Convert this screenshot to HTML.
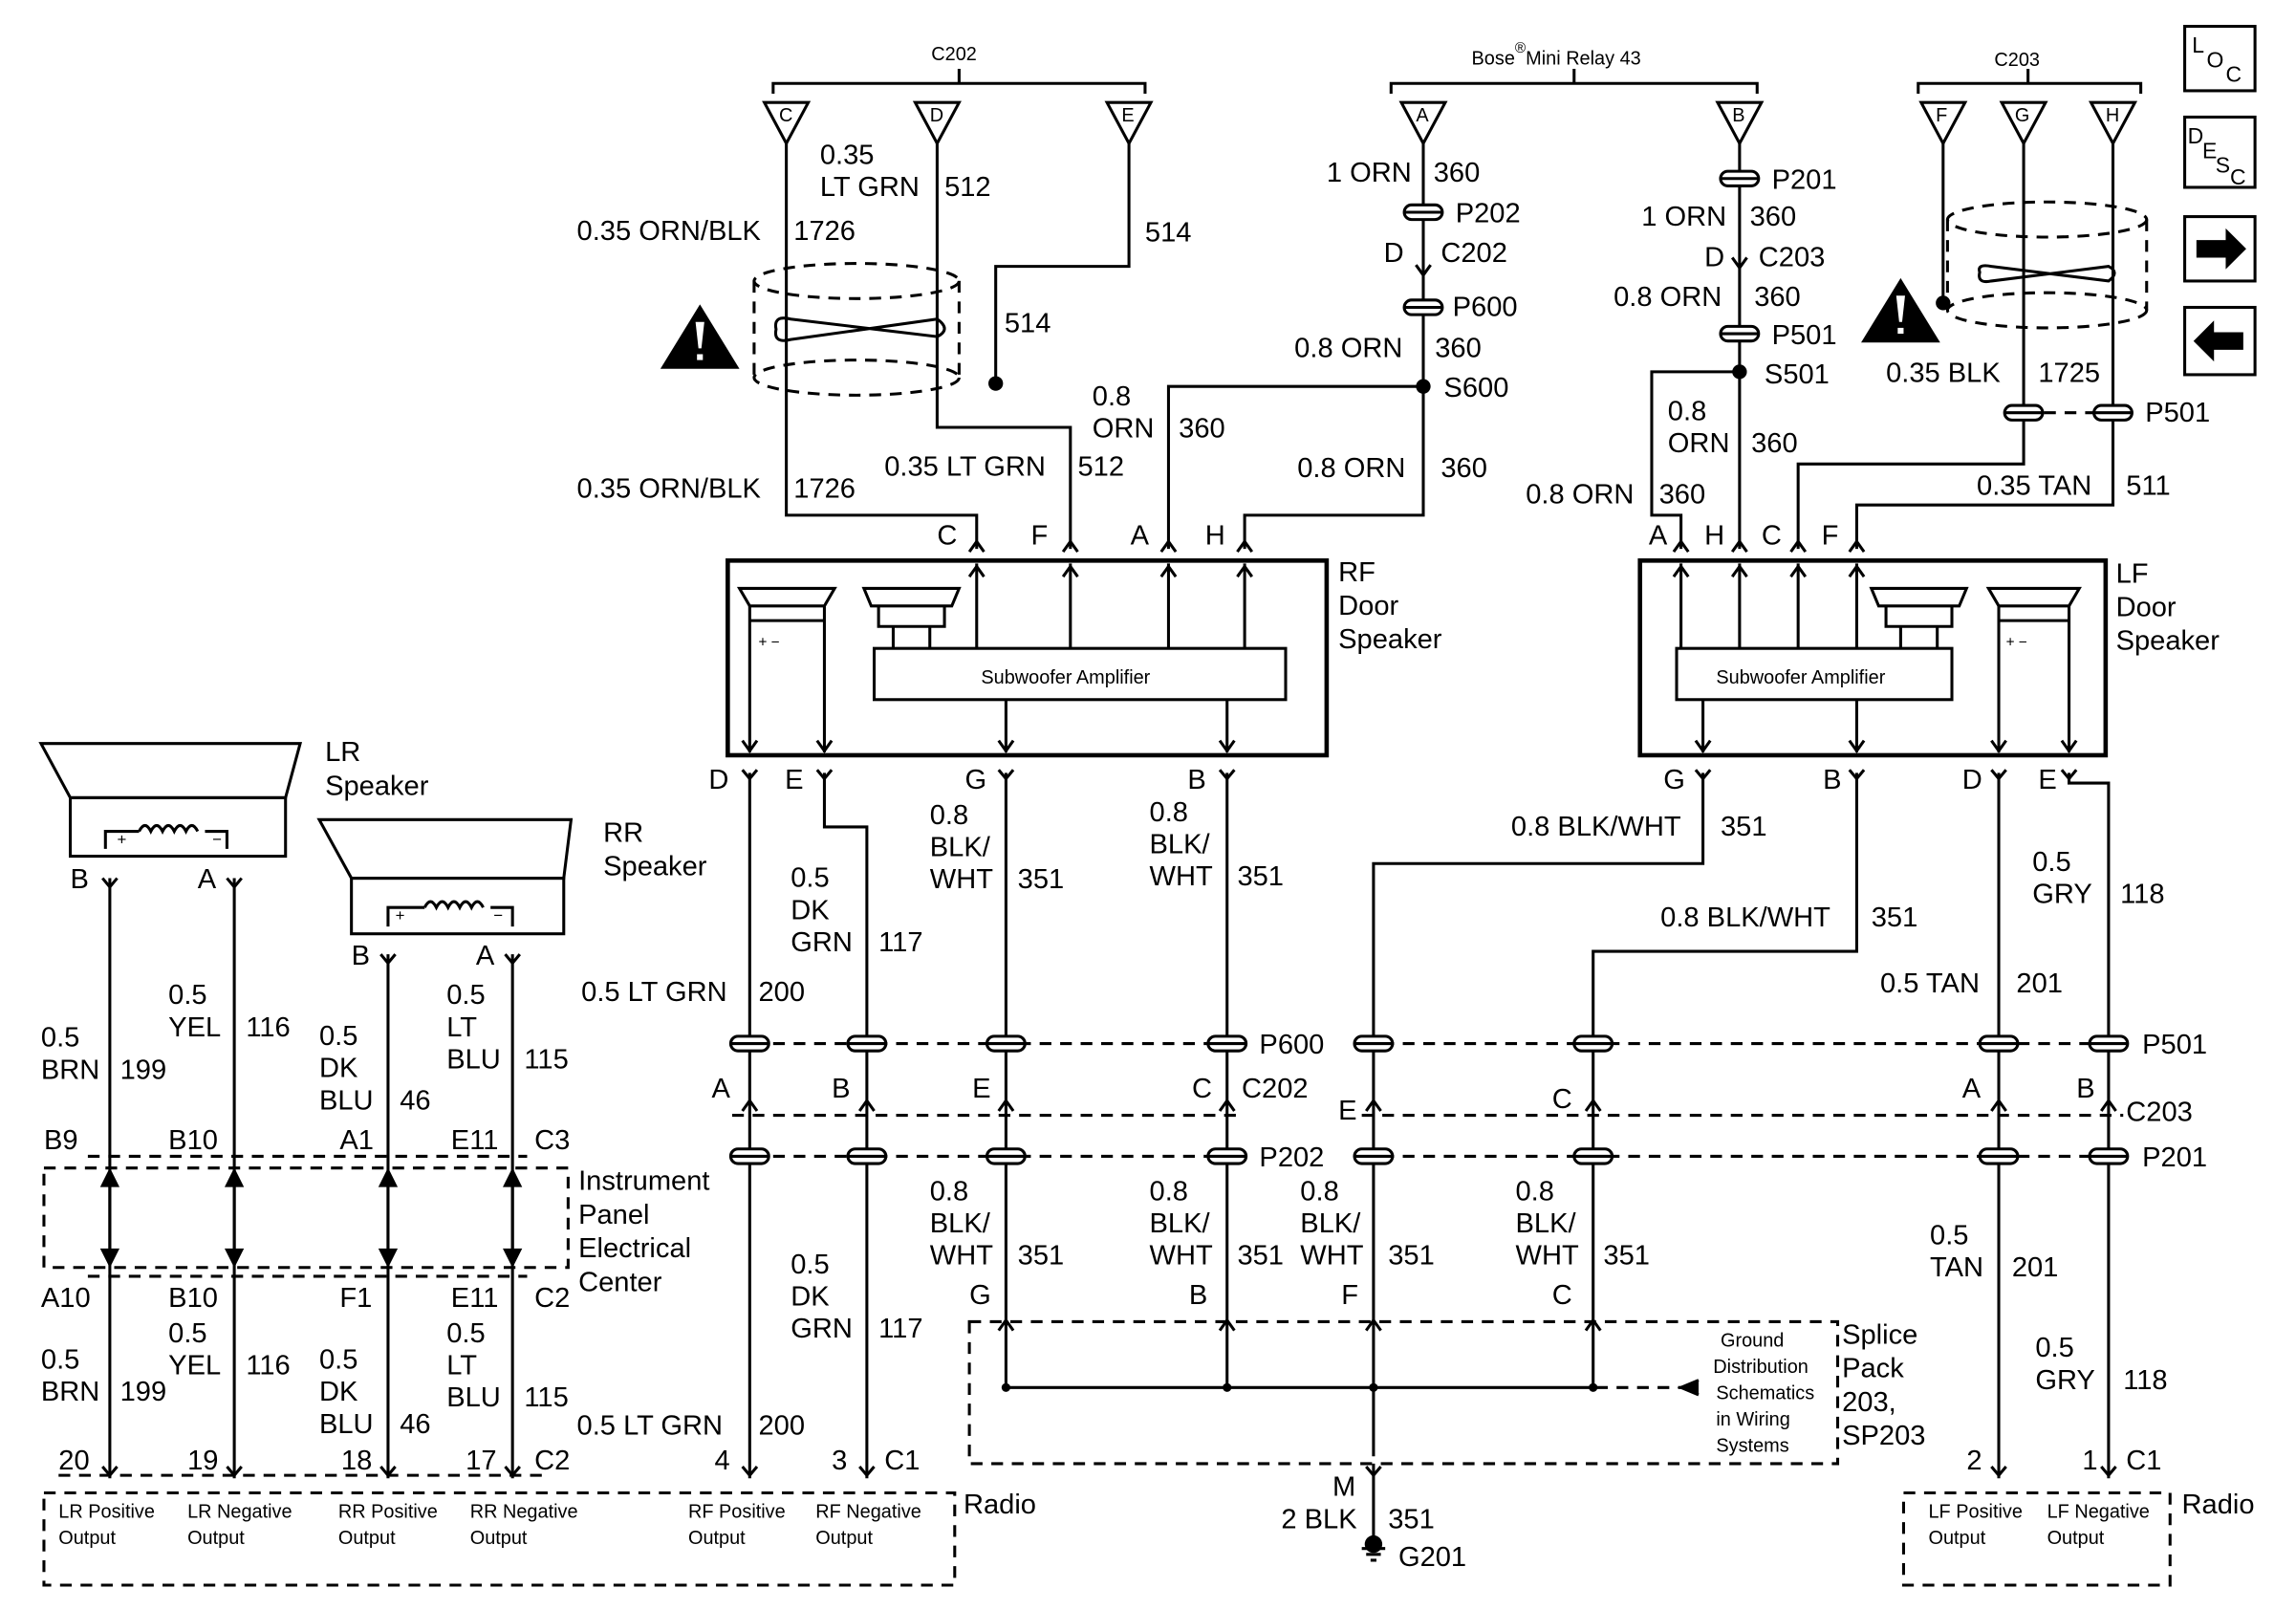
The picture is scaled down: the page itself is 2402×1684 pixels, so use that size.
<!DOCTYPE html>
<html><head><meta charset="utf-8"><style>
html,body{margin:0;padding:0;background:#fff}
svg{display:block}
text{font-family:"Liberation Sans",sans-serif;fill:#000}
</style></head><body>
<svg width="2402" height="1684" viewBox="0 0 1568 1100" preserveAspectRatio="none" xmlns="http://www.w3.org/2000/svg">
<defs>
<g id="tri"><path d="M-15,-28 L15,-28 L0,0 Z" fill="#fff" stroke="#000" stroke-width="2"/></g>
<g id="cap"><rect x="-13" y="-5" width="26" height="10" rx="5" fill="#fff" stroke="#000" stroke-width="2"/><line x1="-13" y1="0" x2="13" y2="0" stroke="#000" stroke-width="2"/></g>
<g id="up"><path d="M-5,7 L0,0 L5,7" fill="none" stroke="#000" stroke-width="2"/></g>
<g id="dn"><path d="M-5,-7 L0,0 L5,-7" fill="none" stroke="#000" stroke-width="2"/></g>
<g id="yy"><path d="M-5,-6 L0,0 L5,-6" fill="none" stroke="#000" stroke-width="2"/></g>
<g id="warn"><path d="M-27,22 L0,-22 L27,22 Z" fill="#000"/><path d="M-3,-10 L3,-10 L1,8 L-1,8Z" fill="#fff"/><rect x="-2" y="12" width="4" height="4" fill="#fff"/></g>
</defs>
<g stroke="#000" stroke-width="2" fill="none">
<path d="M528,64 L528,57 L782,57 L782,64 M655,57 L655,47"/>
<path d="M950,64 L950,57 L1200,57 L1200,64 M1075,57 L1075,47"/>
<path d="M1310,64 L1310,57 L1462,57 L1462,64 M1385,57 L1385,47"/>
<path d="M537,98 L537,352 L667,352 L667,375"/>
<path d="M640,98 L640,292 L731,292 L731,375"/>
<path d="M771,98 L771,182 L680,182 L680,262"/>
<path d="M972,98 L972,352 L850,352 L850,375"/>
<path d="M972,264 L798,264 L798,375"/>
<path d="M1188,98 L1188,375"/>
<path d="M1188,254 L1128,254 L1128,352 L1148,352 L1148,375"/>
<path d="M1327,98 L1327,207"/>
<path d="M1382,98 L1382,317 L1228,317 L1228,375"/>
<path d="M1443,98 L1443,345 L1268,345 L1268,375"/>
<g stroke-dasharray="8,6">
<ellipse cx="585" cy="192" rx="70" ry="12"/><ellipse cx="585" cy="258" rx="70" ry="12"/>
<path d="M515,192 L515,258 M655,192 L655,258"/>
<ellipse cx="1398" cy="150" rx="68" ry="12"/><ellipse cx="1398" cy="212" rx="68" ry="12"/>
<path d="M1330,150 L1330,212 M1466,150 L1466,212"/>
<path d="M1382,282 L1443,282"/>
</g>
<path d="M530,225 Q528,215 540,218 L640,230 Q650,225 640,218 L540,232 Q528,235 530,225Z"/>
<path d="M1352,186 Q1350,180 1360,182 L1440,192 Q1448,186 1440,182 L1360,192 Q1350,194 1352,186Z"/>
<rect x="497" y="383" width="409" height="133" stroke-width="3"/>
<rect x="597" y="443" width="281" height="35"/>
<rect x="1120" y="383" width="318" height="133" stroke-width="3"/>
<rect x="1145" y="443" width="188" height="35"/>
<path d="M505,402 L570,402 L563,414 L512,414 Z M512,424 L563,424"/>
<path d="M590,402 L655,402 L650,414 L595,414 Z M600,414 L645,414 L645,428 L600,428 Z M610,428 L610,443 M635,428 L635,443"/>
<path d="M1278,402 L1343,402 L1338,414 L1283,414 Z M1288,414 L1333,414 L1333,428 L1288,428 Z M1298,428 L1298,443 M1323,428 L1323,443"/>
<path d="M1358,402 L1420,402 L1413,414 L1365,414 Z M1365,424 L1413,424"/>
<path d="M667,443 L667,385 M731,443 L731,385 M798,443 L798,385 M850,443 L850,385"/>
<path d="M687,478 L687,514 M838,478 L838,514 M512,414 L512,514 M563,414 L563,514"/>
<path d="M1148,443 L1148,385 M1188,443 L1188,385 M1228,443 L1228,385 M1268,443 L1268,385"/>
<path d="M1163,478 L1163,514 M1268,478 L1268,514 M1365,414 L1365,514 M1413,414 L1413,514"/>
<path d="M512,528 L512,1010"/>
<path d="M563,528 L563,565 L592,565 L592,1010"/>
<path d="M687,528 L687,948 M838,528 L838,948"/>
<path d="M1163,528 L1163,590 L938,590 L938,995"/>
<path d="M1268,528 L1268,650 L1088,650 L1088,948"/>
<path d="M1365,528 L1365,1010"/>
<path d="M1413,528 L1413,535 L1440,535 L1440,1010"/>
<path d="M687,948 L1088,948"/>
<path d="M1090,948 L1150,948" stroke-dasharray="8,6"/>
<path d="M1160,943 L1148,948 L1160,953" fill="#000"/>
<path d="M938,1000 L938,1050"/>
<path d="M930,1058 L946,1058 M933,1062 L943,1062 M936,1066 L940,1066"/>
<g stroke-dasharray="8,6">
<path d="M500,713 L850,713 M930,713 L1450,713 M500,762 L850,762 M930,762 L1450,762 M500,790 L850,790 M930,790 L1450,790"/>
<rect x="662" y="903" width="593" height="97"/>
<rect x="30" y="798" width="358" height="68"/>
<rect x="30" y="1020" width="622" height="63"/>
<rect x="1300" y="1020" width="182" height="63"/>
<path d="M60,790 L360,790 M60,872 L360,872 M40,1008 L370,1008"/>
</g>
<path d="M28,508 L205,508 L195,545 L48,545 Z"/>
<rect x="48" y="545" width="147" height="40"/>
<path d="M72,580 L72,568 L95,568 M140,568 L155,568 L155,580 M95,568 q4,-8 8,0 q4,-8 8,0 q4,-8 8,0 q4,-8 8,0 q4,-8 8,0"/>
<path d="M218,560 L390,560 L385,600 L240,600 Z"/>
<rect x="240" y="600" width="145" height="38"/>
<path d="M265,633 L265,620 L290,620 M335,620 L350,620 L350,633 M290,620 q4,-8 8,0 q4,-8 8,0 q4,-8 8,0 q4,-8 8,0 q4,-8 8,0"/>
<path d="M75,600 L75,1010 M160,600 L160,1010 M265,652 L265,1010 M350,652 L350,1010"/>
<rect x="1492" y="18" width="48" height="44"/><rect x="1492" y="80" width="48" height="48"/>
<rect x="1492" y="148" width="48" height="44"/><rect x="1492" y="210" width="48" height="46"/>
</g>
<g fill="#000" stroke="none">
<path d="M1500,164 L1520,164 L1520,156 L1534,170 L1520,184 L1520,176 L1500,176Z"/>
<path d="M1532,227 L1512,227 L1512,219 L1498,233 L1512,247 L1512,239 L1532,239Z"/>
<circle cx="680" cy="262" r="5"/><circle cx="972" cy="264" r="5"/><circle cx="1188" cy="254" r="5"/><circle cx="1327" cy="207" r="5"/>
<circle cx="687" cy="948" r="3"/><circle cx="838" cy="948" r="3"/><circle cx="938" cy="948" r="3"/><circle cx="1088" cy="948" r="3"/>
<circle cx="938" cy="1055" r="6"/>
</g>
<g stroke="#000" stroke-width="2" fill="#000">
<path d="M75,802 L75,862"/><path d="M70,810 L75,800 L80,810Z M70,854 L75,864 L80,854Z"/>
<path d="M160,802 L160,862"/><path d="M155,810 L160,800 L165,810Z M155,854 L160,864 L165,854Z"/>
<path d="M265,802 L265,862"/><path d="M260,810 L265,800 L270,810Z M260,854 L265,864 L270,854Z"/>
<path d="M350,802 L350,862"/><path d="M345,810 L350,800 L355,810Z M345,854 L350,864 L355,854Z"/>
</g>
<use href="#tri" x="537" y="98"/><use href="#tri" x="640" y="98"/><use href="#tri" x="771" y="98"/>
<use href="#tri" x="972" y="98"/><use href="#tri" x="1188" y="98"/>
<use href="#tri" x="1327" y="98"/><use href="#tri" x="1382" y="98"/><use href="#tri" x="1443" y="98"/>
<use href="#cap" x="972" y="145"/><use href="#cap" x="972" y="210"/>
<use href="#cap" x="1188" y="122"/><use href="#cap" x="1188" y="228"/>
<use href="#cap" x="1382" y="282"/><use href="#cap" x="1443" y="282"/>
<use href="#dn" x="972" y="188"/><use href="#dn" x="1188" y="183"/>
<g>
<use href="#cap" x="512" y="713"/><use href="#cap" x="592" y="713"/><use href="#cap" x="687" y="713"/><use href="#cap" x="838" y="713"/>
<use href="#cap" x="938" y="713"/><use href="#cap" x="1088" y="713"/><use href="#cap" x="1365" y="713"/><use href="#cap" x="1440" y="713"/>
<use href="#cap" x="512" y="790"/><use href="#cap" x="592" y="790"/><use href="#cap" x="687" y="790"/><use href="#cap" x="838" y="790"/>
<use href="#cap" x="938" y="790"/><use href="#cap" x="1088" y="790"/><use href="#cap" x="1365" y="790"/><use href="#cap" x="1440" y="790"/>
<use href="#up" x="512" y="752"/><use href="#up" x="592" y="752"/><use href="#up" x="687" y="752"/><use href="#up" x="838" y="752"/>
<use href="#up" x="938" y="752"/><use href="#up" x="1088" y="752"/><use href="#up" x="1365" y="752"/><use href="#up" x="1440" y="752"/>
<use href="#up" x="667" y="370"/><use href="#up" x="731" y="370"/><use href="#up" x="798" y="370"/><use href="#up" x="850" y="370"/>
<use href="#up" x="1148" y="370"/><use href="#up" x="1188" y="370"/><use href="#up" x="1228" y="370"/><use href="#up" x="1268" y="370"/>
<use href="#up" x="667" y="387"/><use href="#up" x="731" y="387"/><use href="#up" x="798" y="387"/><use href="#up" x="850" y="387"/>
<use href="#up" x="1148" y="387"/><use href="#up" x="1188" y="387"/><use href="#up" x="1228" y="387"/><use href="#up" x="1268" y="387"/>
<use href="#dn" x="512" y="513"/><use href="#dn" x="563" y="513"/><use href="#dn" x="687" y="513"/><use href="#dn" x="838" y="513"/>
<use href="#dn" x="1163" y="513"/><use href="#dn" x="1268" y="513"/><use href="#dn" x="1365" y="513"/><use href="#dn" x="1413" y="513"/>
<use href="#yy" x="512" y="532"/><use href="#yy" x="563" y="532"/><use href="#yy" x="687" y="532"/><use href="#yy" x="838" y="532"/>
<use href="#yy" x="1163" y="532"/><use href="#yy" x="1268" y="532"/><use href="#yy" x="1365" y="532"/><use href="#yy" x="1413" y="532"/>
<use href="#yy" x="75" y="606"/><use href="#yy" x="160" y="606"/><use href="#yy" x="265" y="658"/><use href="#yy" x="350" y="658"/>
<use href="#up" x="687" y="902"/><use href="#up" x="838" y="902"/><use href="#up" x="938" y="902"/><use href="#up" x="1088" y="902"/>
<use href="#yy" x="938" y="1008"/>
<use href="#yy" x="75" y="1008"/><use href="#yy" x="160" y="1008"/><use href="#yy" x="265" y="1008"/><use href="#yy" x="350" y="1008"/>
<use href="#yy" x="512" y="1008"/><use href="#yy" x="592" y="1008"/><use href="#yy" x="1365" y="1008"/><use href="#yy" x="1440" y="1008"/>
</g>
<use href="#warn" x="478" y="230"/><use href="#warn" x="1298" y="212"/>
<g font-size="13">
<text x="636" y="41">C202</text><text x="1362" y="45">C203</text>
<text x="1005" y="44">Bose<tspan font-size="10" dy="-8">®</tspan><tspan dy="8">Mini Relay 43</tspan></text>
<text x="532" y="83">C</text><text x="635" y="83">D</text><text x="766" y="83">E</text>
<text x="967" y="83">A</text><text x="1183" y="83">B</text>
<text x="1322" y="83">F</text><text x="1376" y="83">G</text><text x="1438" y="83">H</text>
<text x="670" y="467">Subwoofer Amplifier</text><text x="1172" y="467">Subwoofer Amplifier</text>
<text x="518" y="442" font-size="10">+   −</text><text x="1370" y="442" font-size="10">+   −</text>
<text x="80" y="577" font-size="11">+</text><text x="145" y="577" font-size="11">−</text>
<text x="270" y="629" font-size="11">+</text><text x="337" y="629" font-size="11">−</text>
<text x="1175" y="920">Ground</text><text x="1170" y="938">Distribution</text><text x="1172" y="956">Schematics</text><text x="1172" y="974">in Wiring</text><text x="1172" y="992">Systems</text>
<text x="40" y="1037">LR Positive</text><text x="40" y="1055">Output</text>
<text x="128" y="1037">LR Negative</text><text x="128" y="1055">Output</text>
<text x="231" y="1037">RR Positive</text><text x="231" y="1055">Output</text>
<text x="321" y="1037">RR Negative</text><text x="321" y="1055">Output</text>
<text x="470" y="1037">RF Positive</text><text x="470" y="1055">Output</text>
<text x="557" y="1037">RF Negative</text><text x="557" y="1055">Output</text>
<text x="1317" y="1037">LF Positive</text><text x="1317" y="1055">Output</text>
<text x="1398" y="1037">LF Negative</text><text x="1398" y="1055">Output</text>
</g>
<g font-size="15">
<text x="1497" y="36">L</text><text x="1507" y="46">O</text><text x="1520" y="56">C</text>
<text x="1494" y="98">D</text><text x="1504" y="108">E</text><text x="1513" y="118">S</text><text x="1523" y="126">C</text>
</g>
<g font-size="19">
<text x="560" y="112">0.35</text><text x="560" y="134">LT GRN</text><text x="645" y="134">512</text>
<text x="394" y="164">0.35 ORN/BLK</text><text x="542" y="164">1726</text>
<text x="782" y="165">514</text><text x="686" y="227">514</text>
<text x="394" y="340">0.35 ORN/BLK</text><text x="542" y="340">1726</text>
<text x="604" y="325">0.35 LT GRN</text><text x="736" y="325">512</text>
<text x="906" y="124">1 ORN</text><text x="979" y="124">360</text>
<text x="994" y="152">P202</text>
<text x="945" y="179">D</text><text x="984" y="179">C202</text>
<text x="992" y="216">P600</text>
<text x="884" y="244">0.8 ORN</text><text x="980" y="244">360</text>
<text x="986" y="271">S600</text>
<text x="746" y="277">0.8</text><text x="746" y="299">ORN</text><text x="805" y="299">360</text>
<text x="886" y="326">0.8 ORN</text><text x="984" y="326">360</text>
<text x="640" y="372">C</text><text x="704" y="372">F</text><text x="772" y="372">A</text><text x="823" y="372">H</text>
<text x="914" y="397">RF</text><text x="914" y="420">Door</text><text x="914" y="443">Speaker</text>
<text x="1210" y="129">P201</text>
<text x="1121" y="154">1 ORN</text><text x="1195" y="154">360</text>
<text x="1164" y="182">D</text><text x="1201" y="182">C203</text>
<text x="1102" y="209">0.8 ORN</text><text x="1198" y="209">360</text>
<text x="1210" y="235">P501</text>
<text x="1205" y="262">S501</text>
<text x="1139" y="287">0.8</text><text x="1139" y="309">ORN</text><text x="1196" y="309">360</text>
<text x="1042" y="344">0.8 ORN</text><text x="1133" y="344">360</text>
<text x="1288" y="261">0.35 BLK</text><text x="1392" y="261">1725</text>
<text x="1465" y="288">P501</text>
<text x="1350" y="338">0.35 TAN</text><text x="1452" y="338">511</text>
<text x="1126" y="372">A</text><text x="1164" y="372">H</text><text x="1203" y="372">C</text><text x="1244" y="372">F</text>
<text x="1445" y="398">LF</text><text x="1445" y="421">Door</text><text x="1445" y="444">Speaker</text>
<text x="484" y="539">D</text><text x="536" y="539">E</text><text x="659" y="539">G</text><text x="811" y="539">B</text>
<text x="1136" y="539">G</text><text x="1245" y="539">B</text><text x="1340" y="539">D</text><text x="1392" y="539">E</text>
<text x="635" y="563">0.8</text><text x="635" y="585">BLK/</text><text x="635" y="607">WHT</text><text x="695" y="607">351</text>
<text x="785" y="561">0.8</text><text x="785" y="583">BLK/</text><text x="785" y="605">WHT</text><text x="845" y="605">351</text>
<text x="540" y="606">0.5</text><text x="540" y="628">DK</text><text x="540" y="650">GRN</text><text x="600" y="650">117</text>
<text x="397" y="684">0.5 LT GRN</text><text x="518" y="684">200</text>
<text x="1032" y="571">0.8 BLK/WHT</text><text x="1175" y="571">351</text>
<text x="1134" y="633">0.8 BLK/WHT</text><text x="1278" y="633">351</text>
<text x="1388" y="595">0.5</text><text x="1388" y="617">GRY</text><text x="1448" y="617">118</text>
<text x="1284" y="678">0.5 TAN</text><text x="1377" y="678">201</text>
<text x="860" y="720">P600</text><text x="1463" y="720">P501</text>
<text x="486" y="750">A</text><text x="568" y="750">B</text><text x="664" y="750">E</text><text x="814" y="750">C</text><text x="848" y="750">C202</text>
<text x="914" y="765">E</text><text x="1060" y="757">C</text><text x="1340" y="750">A</text><text x="1418" y="750">B</text><text x="1452" y="766">C203</text>
<text x="860" y="797">P202</text><text x="1463" y="797">P201</text>
<text x="635" y="820">0.8</text><text x="635" y="842">BLK/</text><text x="635" y="864">WHT</text><text x="695" y="864">351</text>
<text x="785" y="820">0.8</text><text x="785" y="842">BLK/</text><text x="785" y="864">WHT</text><text x="845" y="864">351</text>
<text x="888" y="820">0.8</text><text x="888" y="842">BLK/</text><text x="888" y="864">WHT</text><text x="948" y="864">351</text>
<text x="1035" y="820">0.8</text><text x="1035" y="842">BLK/</text><text x="1035" y="864">WHT</text><text x="1095" y="864">351</text>
<text x="662" y="891">G</text><text x="812" y="891">B</text><text x="916" y="891">F</text><text x="1060" y="891">C</text>
<text x="540" y="870">0.5</text><text x="540" y="892">DK</text><text x="540" y="914">GRN</text><text x="600" y="914">117</text>
<text x="394" y="980">0.5 LT GRN</text><text x="518" y="980">200</text>
<text x="1318" y="850">0.5</text><text x="1318" y="872">TAN</text><text x="1374" y="872">201</text>
<text x="1390" y="927">0.5</text><text x="1390" y="949">GRY</text><text x="1450" y="949">118</text>
<text x="1258" y="918">Splice</text><text x="1258" y="941">Pack</text><text x="1258" y="964">203,</text><text x="1258" y="987">SP203</text>
<text x="910" y="1022">M</text><text x="875" y="1044">2 BLK</text><text x="948" y="1044">351</text><text x="955" y="1070">G201</text>
<text x="488" y="1004">4</text><text x="568" y="1004">3</text><text x="604" y="1004">C1</text>
<text x="1343" y="1004">2</text><text x="1422" y="1004">1</text><text x="1452" y="1004">C1</text>
<text x="658" y="1034">Radio</text><text x="1490" y="1034">Radio</text>
<text x="222" y="520">LR</text><text x="222" y="543">Speaker</text>
<text x="412" y="575">RR</text><text x="412" y="598">Speaker</text>
<text x="48" y="607">B</text><text x="135" y="607">A</text><text x="240" y="659">B</text><text x="325" y="659">A</text>
<text x="115" y="686">0.5</text><text x="115" y="708">YEL</text><text x="168" y="708">116</text>
<text x="28" y="715">0.5</text><text x="28" y="737">BRN</text><text x="82" y="737">199</text>
<text x="218" y="714">0.5</text><text x="218" y="736">DK</text><text x="218" y="758">BLU</text><text x="273" y="758">46</text>
<text x="305" y="686">0.5</text><text x="305" y="708">LT</text><text x="305" y="730">BLU</text><text x="358" y="730">115</text>
<text x="30" y="785">B9</text><text x="115" y="785">B10</text><text x="232" y="785">A1</text><text x="308" y="785">E11</text><text x="365" y="785">C3</text>
<text x="395" y="813">Instrument</text><text x="395" y="836">Panel</text><text x="395" y="859">Electrical</text><text x="395" y="882">Center</text>
<text x="28" y="893">A10</text><text x="115" y="893">B10</text><text x="232" y="893">F1</text><text x="308" y="893">E11</text><text x="365" y="893">C2</text>
<text x="115" y="917">0.5</text><text x="115" y="939">YEL</text><text x="168" y="939">116</text>
<text x="28" y="935">0.5</text><text x="28" y="957">BRN</text><text x="82" y="957">199</text>
<text x="218" y="935">0.5</text><text x="218" y="957">DK</text><text x="218" y="979">BLU</text><text x="273" y="979">46</text>
<text x="305" y="917">0.5</text><text x="305" y="939">LT</text><text x="305" y="961">BLU</text><text x="358" y="961">115</text>
<text x="40" y="1004">20</text><text x="128" y="1004">19</text><text x="233" y="1004">18</text><text x="318" y="1004">17</text><text x="365" y="1004">C2</text>
</g>
</svg>
</body></html>
